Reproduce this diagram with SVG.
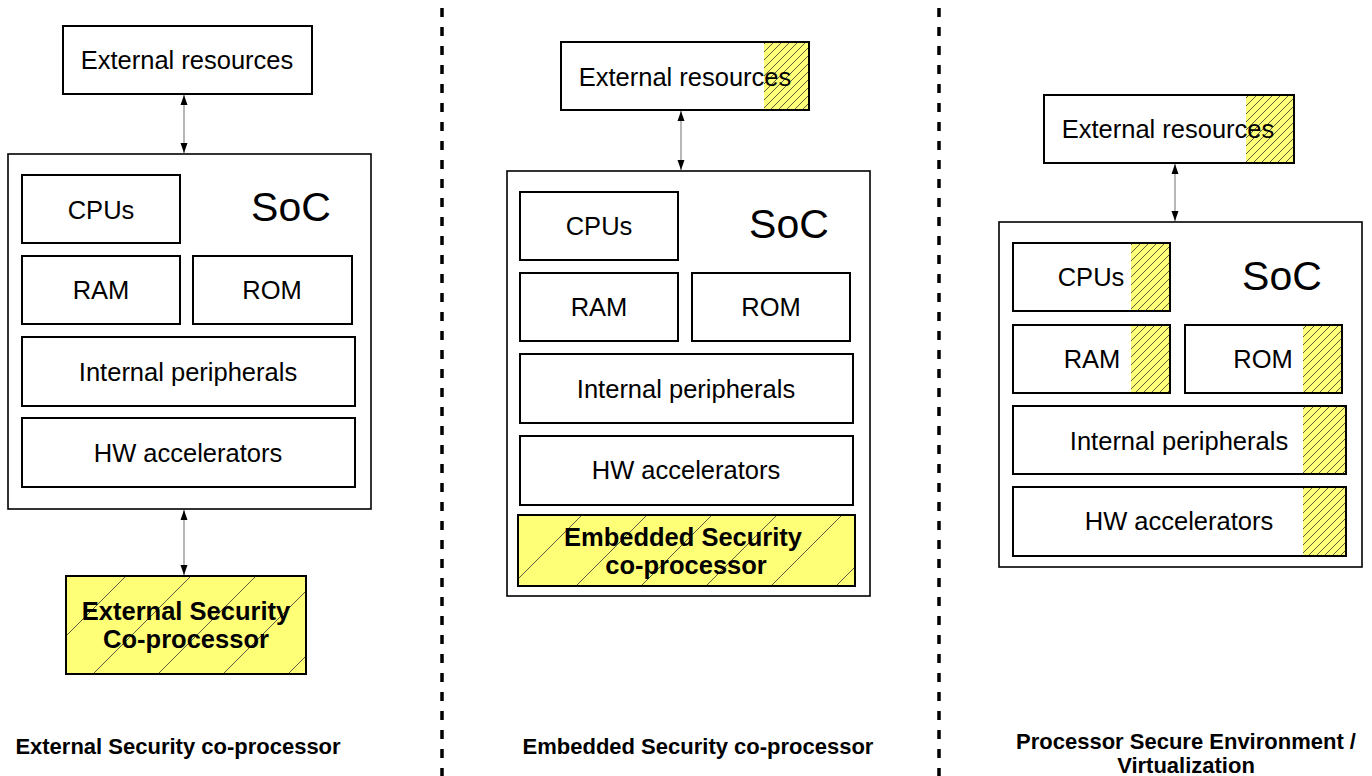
<svg xmlns="http://www.w3.org/2000/svg" width="1372" height="776" viewBox="0 0 1372 776">
<style>
.box{fill:#fff;stroke:#000;stroke-width:2}
.soc{fill:#fff;stroke:#000;stroke-width:1.6}
.hs{fill:url(#hatchS);stroke:none}
.t{font-family:"Liberation Sans",Arial,sans-serif;font-size:25.5px;fill:#000;text-anchor:middle;dominant-baseline:central}
.big{font-size:41px}
.b{font-weight:bold}
.lbl{font-family:"Liberation Sans",Arial,sans-serif;font-size:22px;font-weight:bold;fill:#000;text-anchor:middle}
.conn{stroke:#888;stroke-width:1.2;fill:none}
.sep{stroke:#000;stroke-width:3.5;stroke-dasharray:9 10}
</style>
<defs>
<pattern id="hatchS" patternUnits="userSpaceOnUse" width="8" height="8">
<rect width="8" height="8" fill="#ffff77"/>
<path d="M-2,2 L2,-2 M0,8 L8,0 M6,10 L10,6" stroke="#333" stroke-width="0.8"/>
</pattern>
<pattern id="hatchL1" patternUnits="userSpaceOnUse" x="52" y="0" width="65" height="65">
<rect width="65" height="65" fill="#ffff77"/>
<path d="M-5,5 L5,-5 M0,65 L65,0 M60,70 L70,60" stroke="#333" stroke-width="0.8"/>
</pattern>
<pattern id="hatchL2" patternUnits="userSpaceOnUse" x="57" y="0" width="65" height="65">
<rect width="65" height="65" fill="#ffff77"/>
<path d="M-5,5 L5,-5 M0,65 L65,0 M60,70 L70,60" stroke="#333" stroke-width="0.8"/>
</pattern>
<marker id="ah" viewBox="0 0 10 10" refX="10" refY="5" markerWidth="10" markerHeight="10" markerUnits="userSpaceOnUse" orient="auto-start-reverse">
<path d="M0,1.5 L10,5 L0,8.5 Z" fill="#000"/>
</marker>
</defs>

<g id="separators">
<line class="sep" x1="442" y1="8" x2="442" y2="776"/>
<line class="sep" x1="939" y1="8" x2="939" y2="776"/>
</g>

<g id="connectors">
<line class="conn" x1="184" y1="95" x2="184" y2="153" marker-start="url(#ah)" marker-end="url(#ah)"/>
<line class="conn" x1="184" y1="510" x2="184" y2="575" marker-start="url(#ah)" marker-end="url(#ah)"/>
<line class="conn" x1="681" y1="111" x2="681" y2="170" marker-start="url(#ah)" marker-end="url(#ah)"/>
<line class="conn" x1="1175" y1="164" x2="1175" y2="221" marker-start="url(#ah)" marker-end="url(#ah)"/>
</g>

<!-- Column 1 -->
<g id="c1-ext">
<rect class="box" x="63" y="26" width="249" height="68"/>
<text class="t" x="187" y="60">External resources</text>
</g>
<g id="c1-soc">
<rect class="soc" x="8" y="154" width="363" height="355"/>
<text class="t big" x="291" y="207">SoC</text>
</g>
<g id="c1-cpus"><rect class="box" x="22" y="175" width="158" height="68"/><text class="t" x="101" y="210">CPUs</text></g>
<g id="c1-ram"><rect class="box" x="22" y="256" width="158" height="68"/><text class="t" x="101" y="290">RAM</text></g>
<g id="c1-rom"><rect class="box" x="193" y="256" width="159" height="68"/><text class="t" x="272" y="290">ROM</text></g>
<g id="c1-ip"><rect class="box" x="22" y="337" width="333" height="69"/><text class="t" x="188" y="372">Internal peripherals</text></g>
<g id="c1-hw"><rect class="box" x="22" y="418" width="333" height="69"/><text class="t" x="188" y="453">HW accelerators</text></g>
<g id="c1-sec">
<rect x="66" y="576" width="240" height="98" fill="url(#hatchL1)" stroke="#000" stroke-width="2"/>
<text class="t b" x="186" y="611">External Security</text>
<text class="t b" x="186" y="639">Co-processor</text>
</g>
<g id="c1-label"><text class="lbl" x="178" y="754">External Security co-processor</text></g>

<!-- Column 2 -->
<g id="c2-ext">
<rect class="box" x="561" y="42" width="248" height="68"/>
<rect class="hs" x="764" y="43" width="44" height="66"/>
<rect x="561" y="42" width="248" height="68" fill="none" stroke="#000" stroke-width="2"/>
<text class="t" x="685" y="77">External resources</text>
</g>
<g id="c2-soc">
<rect class="soc" x="507" y="171" width="363" height="425"/>
<text class="t big" x="789" y="224">SoC</text>
</g>
<g id="c2-cpus"><rect class="box" x="520" y="192" width="158" height="68"/><text class="t" x="599" y="226">CPUs</text></g>
<g id="c2-ram"><rect class="box" x="520" y="273" width="158" height="68"/><text class="t" x="599" y="307">RAM</text></g>
<g id="c2-rom"><rect class="box" x="692" y="273" width="158" height="68"/><text class="t" x="771" y="307">ROM</text></g>
<g id="c2-ip"><rect class="box" x="520" y="354" width="333" height="69"/><text class="t" x="686" y="389">Internal peripherals</text></g>
<g id="c2-hw"><rect class="box" x="520" y="436" width="333" height="69"/><text class="t" x="686" y="470">HW accelerators</text></g>
<g id="c2-sec">
<rect x="518" y="515" width="337" height="71" fill="url(#hatchL2)" stroke="#000" stroke-width="2"/>
<text class="t b" x="683" y="537">Embedded Security</text>
<text class="t b" x="686" y="565">co-processor</text>
</g>
<g id="c2-label"><text class="lbl" x="698" y="754">Embedded Security co-processor</text></g>

<!-- Column 3 -->
<g id="c3-ext">
<rect class="box" x="1044" y="95" width="250" height="68"/>
<rect class="hs" x="1246" y="96" width="47" height="66"/>
<rect x="1044" y="95" width="250" height="68" fill="none" stroke="#000" stroke-width="2"/>
<text class="t" x="1168" y="129">External resources</text>
</g>
<g id="c3-soc">
<rect class="soc" x="999" y="222" width="363" height="345"/>
<text class="t big" x="1282" y="276">SoC</text>
</g>
<g id="c3-cpus">
<rect class="box" x="1013" y="243" width="157" height="68"/>
<rect class="hs" x="1131" y="244" width="38" height="66"/>
<rect x="1013" y="243" width="157" height="68" fill="none" stroke="#000" stroke-width="2"/>
<text class="t" x="1091" y="277">CPUs</text>
</g>
<g id="c3-ram">
<rect class="box" x="1013" y="325" width="157" height="68"/>
<rect class="hs" x="1131" y="326" width="38" height="66"/>
<rect x="1013" y="325" width="157" height="68" fill="none" stroke="#000" stroke-width="2"/>
<text class="t" x="1092" y="359">RAM</text>
</g>
<g id="c3-rom">
<rect class="box" x="1185" y="325" width="157" height="68"/>
<rect class="hs" x="1303" y="326" width="38" height="66"/>
<rect x="1185" y="325" width="157" height="68" fill="none" stroke="#000" stroke-width="2"/>
<text class="t" x="1263" y="359">ROM</text>
</g>
<g id="c3-ip">
<rect class="box" x="1013" y="406" width="333" height="68"/>
<rect class="hs" x="1303" y="407" width="42" height="66"/>
<rect x="1013" y="406" width="333" height="68" fill="none" stroke="#000" stroke-width="2"/>
<text class="t" x="1179" y="441">Internal peripherals</text>
</g>
<g id="c3-hw">
<rect class="box" x="1013" y="487" width="333" height="69"/>
<rect class="hs" x="1303" y="488" width="42" height="67"/>
<rect x="1013" y="487" width="333" height="69" fill="none" stroke="#000" stroke-width="2"/>
<text class="t" x="1179" y="521">HW accelerators</text>
</g>
<g id="c3-label">
<text class="lbl" x="1186" y="749">Processor Secure Environment /</text>
<text class="lbl" x="1186" y="773">Virtualization</text>
</g>
</svg>
